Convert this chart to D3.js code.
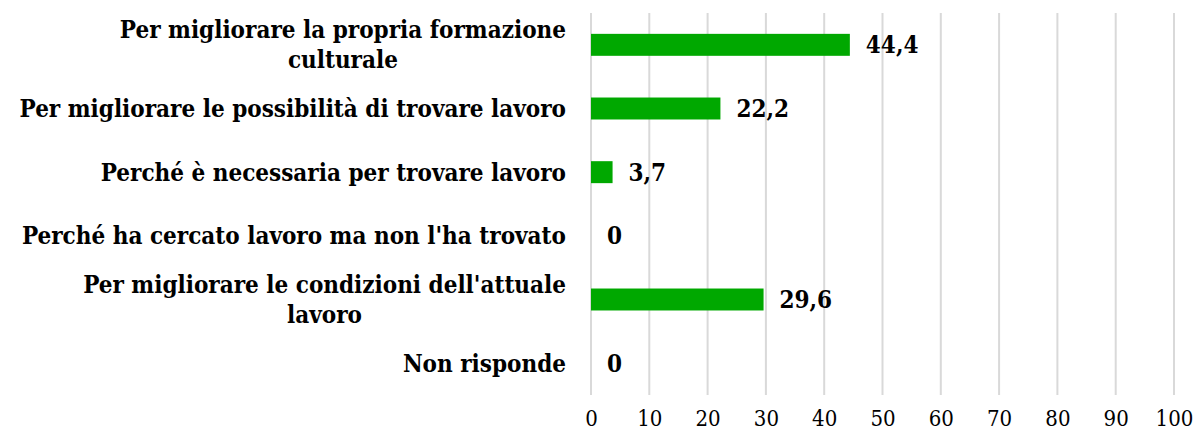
<!DOCTYPE html>
<html>
<head>
<meta charset="utf-8">
<script src="https://cdn.jsdelivr.net/npm/d3@7"></script>
<style>
  body { margin: 0; background: #fff; }
  svg { display: block; }
  .lbl { font-family: "DejaVu Serif Condensed", "DejaVu Serif", serif; font-stretch: condensed; font-weight: bold; fill: #000; }
  .tick text { font-family: "DejaVu Serif Condensed", "DejaVu Serif", serif; font-stretch: condensed; fill: #000; }
</style>
</head>
<body>
<svg id="chart" width="1194" height="436"></svg>
<script>
// categories (top to bottom), each line of a label is a separate string
var categories = [
    ['Per migliorare la propria formazione', 'culturale'],
    ['Per migliorare le possibilità di trovare lavoro'],
    ['Perché è necessaria per trovare lavoro'],
    ["Perché ha cercato lavoro ma non l'ha trovato"],
    ["Per migliorare le condizioni dell'attuale", 'lavoro'],
    ['Non risponde']
];
var values = [44.4, 22.2, 3.7, 0, 29.6, 0];
var xTicks = [0, 10, 20, 30, 40, 50, 60, 70, 80, 90, 100];

var svg = d3.select('#chart');

var x = d3.scaleLinear().domain([0, 100]).range([591, 1174]);
var y = d3.scaleBand()
    .domain(d3.range(categories.length))
    .range([13, 395])
    .paddingInner(0.655)
    .paddingOuter(0.3275);

// gridlines
svg.append('g').selectAll('line')
    .data(xTicks)
    .enter().append('line')
    .attr('x1', function (d) { return x(d); })
    .attr('x2', function (d) { return x(d); })
    .attr('y1', 13)
    .attr('y2', 395)
    .attr('stroke', '#d9d9d9')
    .attr('stroke-width', 2);

// x axis labels
var xAxis = svg.append('g')
    .attr('transform', 'translate(0,' + 409 + ')')
    .call(d3.axisBottom(x).tickValues(xTicks).tickSize(0).tickPadding(0).tickFormat(d3.format('d')));
xAxis.select('.domain').remove();
xAxis.selectAll('text').style('font-size', '22px').attr('dy', '0.75em');

// bars
svg.append('g').selectAll('rect')
    .data(values)
    .enter().append('rect')
    .attr('x', x(0))
    .attr('y', function (d, i) { return y(i); })
    .attr('width', function (d) { return x(d) - x(0); })
    .attr('height', y.bandwidth())
    .attr('fill', '#00a800');

// value labels
svg.append('g').selectAll('text')
    .data(values)
    .enter().append('text')
    .attr('class', 'lbl')
    .attr('x', function (d) { return x(d) + 16; })
    .attr('y', function (d, i) { return y(i) + y.bandwidth() / 2; })
    .attr('dy', '0.35em')
    .style('font-size', '24px')
    .text(function (d) { return String(d).replace('.', ','); });

// category labels: lines centred on each other, block right-aligned
var labelRight = 566, lineH = 30;
categories.forEach(function (lines, i) {
    var g = svg.append('g');
    var texts = lines.map(function (s, j) {
        return g.append('text')
            .attr('class', 'lbl')
            .style('font-size', '24px')
            .attr('text-anchor', 'middle')
            .attr('y', y(i) + y.bandwidth() / 2 + (j - (lines.length - 1) / 2) * lineH)
            .attr('dy', '0.35em')
            .text(s);
    });
    var maxW = d3.max(texts, function (t) { return t.node().getComputedTextLength(); });
    texts.forEach(function (t) { t.attr('x', labelRight - maxW / 2); });
});
</script>
</body>
</html>
